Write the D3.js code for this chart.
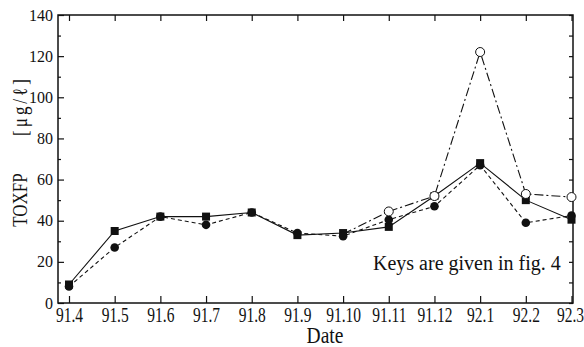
<!DOCTYPE html>
<html>
<head>
<meta charset="utf-8">
<script src="https://cdn.jsdelivr.net/npm/d3@7"></script>
<style>
  body { margin: 0; background: #fff; }
</style>
</head>
<body>
<svg width="584" height="347"></svg>
<script>
// data
const dates = ["91.4", "91.5", "91.6", "91.7", "91.8", "91.9", "91.10", "91.11", "91.12", "92.1", "92.2", "92.3"];
const squares = [9, 35, 42, 42, 44, 33, 34, 37, 52, 68, 50, 40.5];
const circles = [8, 27, 42, 38, 44, 34, 32.5, 40.5, 47, 67, 39, 42.5];
const openDates = ["91.10", "91.11", "91.12", "92.1", "92.2", "92.3"];
const openCircles = [33.5, 44.5, 52, 122, 53, 51.5];
const yMajor = [0, 20, 40, 60, 80, 100, 120, 140];
const yMinor = [10, 30, 50, 70, 90, 110, 130];

const serif = '"Liberation Serif", "Times New Roman", "DejaVu Serif", serif';

const svg = d3.select('svg');
const margin = { top: 15, left: 58, right: 11, bottom: 44 };
const width = +svg.attr('width') - margin.left - margin.right;
const height = +svg.attr('height') - margin.top - margin.bottom;

const g = svg.append("g").attr("transform", `translate(${margin.left}, ${margin.top})`);

const x = d3.scalePoint().domain(dates).range([11, 513.5]);
const y = d3.scaleLinear().domain([0, 140]).range([height, 0]);

// frame
g.append("rect")
    .attr("width", width).attr("height", height)
    .attr("fill", "none").attr("stroke", "#111").attr("stroke-width", 1.5);

// axes, ticks pointing inward
function clean(sel) {
    sel.select(".domain").remove();
    sel.selectAll(".tick line").attr("stroke", "#111").attr("stroke-width", 1.2);
}

g.append("g")
    .call(d3.axisLeft(y).tickValues(yMajor).tickSize(-6).tickPadding(5))
    .call(clean)
    .selectAll(".tick text")
    .style("font-family", serif).style("font-size", "16px").attr("fill", "#111");
g.append("g")
    .call(d3.axisLeft(y).tickValues(yMinor).tickSize(-3).tickFormat(""))
    .call(clean);
g.append("g")
    .attr("transform", `translate(${width},0)`)
    .call(d3.axisRight(y).tickValues(yMajor.concat(yMinor)).tickSize(-4).tickFormat(""))
    .call(clean);
g.append("g")
    .call(d3.axisTop(x).tickSize(-6).tickFormat(""))
    .call(clean);

const xAxis = g.append("g")
    .attr("transform", `translate(0,${height})`)
    .call(d3.axisBottom(x).tickSize(-7))
    .call(clean);
xAxis.selectAll(".tick text")
    .style("font-family", serif).style("font-size", "15.5px").attr("fill", "#111")
    .attr("y", 0).attr("dy", null)
    .attr("x", d => d === "92.3" ? -1.5 : 0)
    .attr("transform", "translate(0,19) scale(1,1.4)");

// lines
const line = (xs) => d3.line()
    .x((d, i) => x(xs[i]))
    .y(d => y(d));

g.append("path").datum(squares)
    .attr("d", line(dates))
    .attr("fill", "none").attr("stroke", "#111").attr("stroke-width", 1.1);
g.append("path").datum(circles)
    .attr("d", line(dates))
    .attr("fill", "none").attr("stroke", "#111").attr("stroke-width", 1.1)
    .attr("stroke-dasharray", "4,3");
g.append("path").datum(openCircles)
    .attr("d", line(openDates))
    .attr("fill", "none").attr("stroke", "#111").attr("stroke-width", 1.1)
    .attr("stroke-dasharray", "9,3,2,3");

// markers
g.selectAll(".sq").data(squares).enter().append("rect")
    .attr("x", (d, i) => x(dates[i]) - 4)
    .attr("y", d => y(d) - 4)
    .attr("width", 8).attr("height", 8)
    .attr("fill", "#111");
g.selectAll(".dot").data(circles).enter().append("circle")
    .attr("cx", (d, i) => x(dates[i]))
    .attr("cy", d => y(d))
    .attr("r", 4.3)
    .attr("fill", "#111");
g.selectAll(".open").data(openCircles).enter().append("circle")
    .filter((d, i) => i > 0)
    .attr("cx", (d, i) => x(openDates[i + 1]))
    .attr("cy", d => y(d))
    .attr("r", 4.5)
    .attr("fill", "#fff").attr("stroke", "#111").attr("stroke-width", 1);

// texts
function label(t, transform, size) {
    return svg.append("text")
        .attr("transform", transform)
        .attr("fill", "#111")
        .style("font-family", serif)
        .style("font-size", size)
        .text(t);
}
label("Date", "translate(325,343) scale(1,1.15)", "19.5px").attr("text-anchor", "middle");
label("Keys are given in fig. 4", "translate(373,270)", "20px");
label("TOXFP", "translate(27,200) rotate(-90) scale(1,1.25)", "17px").attr("text-anchor", "middle");
label("[μg/ℓ]", "translate(27,106) rotate(-90) scale(1,1.2)", "17px")
    .attr("text-anchor", "middle")
    .style("letter-spacing", "3px");
</script>
</body>
</html>
